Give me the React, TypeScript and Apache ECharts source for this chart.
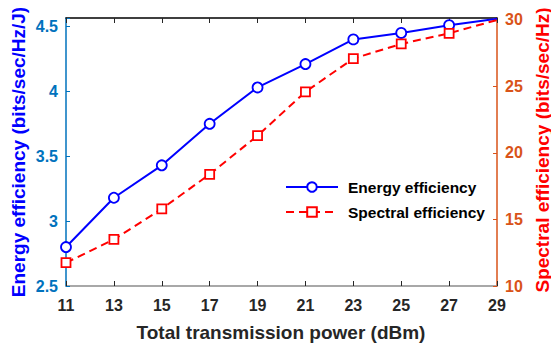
import React, { useEffect, useRef } from "react";
import * as echarts from "echarts";

const powerCategories = ["11", "13", "15", "17", "19", "21", "23", "25", "27", "29"];
const energyEfficiency = [2.8, 3.18, 3.43, 3.75, 4.03, 4.21, 4.4, 4.45, 4.51, 4.56];
const spectralEfficiency = [11.75, 13.5, 15.8, 18.4, 21.3, 24.6, 27.1, 28.2, 29.0, 30.0];
const leftTicks = [2.5, 3, 3.5, 4, 4.5];
const rightTicks = [10, 15, 20, 25, 30];

const FONT = "'Liberation Sans', Arial, Helvetica, sans-serif";

export default function App() {
  const ref = useRef<HTMLDivElement>(null);

  useEffect(() => {
    if (!ref.current) return;
    const chart = echarts.init(ref.current, undefined, { renderer: "svg" });
    const lastIdx = powerCategories.length - 1;
    const isTick = (v: number, ticks: number[]) => ticks.some((t) => Math.abs(t - v) < 1e-6);

    const option: any = {
      animation: false,
      backgroundColor: "#ffffff",
      grid: { left: 66, right: 54, top: 18, bottom: 59, containLabel: false },
      legend: {
        orient: "vertical",
        left: 280,
        top: 174,
        itemWidth: 52,
        itemHeight: 12,
        itemGap: 9,
        textStyle: {
          fontFamily: FONT,
          fontWeight: "bold",
          fontSize: 15.5,
          color: "#000000",
          lineHeight: 16,
          padding: [0, 0, 0, 5],
        },
        data: ["Energy efficiency", "Spectral efficiency"],
      },
      xAxis: [
        {
          type: "category",
          data: powerCategories,
          boundaryGap: false,
          position: "bottom",
          axisLine: { lineStyle: { color: "#8c8c8c", width: 1.5 } },
          axisTick: { inside: true, length: 5, lineStyle: { color: "#262626", width: 1 } },
          axisLabel: {
            margin: 11,
            fontFamily: FONT,
            fontWeight: "bold",
            fontSize: 16,
            color: "#262626",
          },
          splitLine: { show: false },
        },
        {
          type: "category",
          data: powerCategories,
          boundaryGap: false,
          position: "top",
          axisLine: { lineStyle: { color: "#000000", width: 1.5 } },
          axisTick: { inside: true, length: 5, lineStyle: { color: "#262626", width: 1 } },
          axisLabel: { show: false },
          splitLine: { show: false },
        },
      ],
      yAxis: [
        {
          type: "value",
          min: 2.5,
          max: 4.565,
          interval: 0.5,
          position: "left",
          axisLine: { show: true, lineStyle: { color: "#0072BD", width: 1.5 } },
          axisTick: { show: true, inside: true, length: 4, lineStyle: { color: "#0072BD" } },
          axisLabel: {
            margin: 8,
            fontFamily: FONT,
            fontWeight: "bold",
            fontSize: 16,
            color: "#0072BD",
            formatter: (v: number) => (isTick(v, leftTicks) ? String(v) : ""),
          },
          splitLine: { show: false },
        },
        {
          type: "value",
          min: 10,
          max: 30.15,
          interval: 5,
          position: "right",
          axisLine: { show: true, lineStyle: { color: "#D95319", width: 1.5 } },
          axisTick: { show: true, inside: true, length: 4, lineStyle: { color: "#D95319" } },
          axisLabel: {
            margin: 8,
            fontFamily: FONT,
            fontWeight: "bold",
            fontSize: 16,
            color: "#D95319",
            formatter: (v: number) => (isTick(v, rightTicks) ? String(v) : ""),
          },
          splitLine: { show: false },
        },
      ],
      series: [
        {
          name: "Energy efficiency",
          type: "line",
          xAxisIndex: 0,
          yAxisIndex: 0,
          clip: true,
          symbol: "circle",
          symbolSize: 10,
          data: energyEfficiency.map((v, i) => (i === lastIdx ? { value: v, symbol: "none" } : v)),
          lineStyle: { color: "#0000FF", width: 2 },
          itemStyle: { color: "#ffffff", borderColor: "#0000FF", borderWidth: 1.8 },
        },
        {
          name: "Spectral efficiency",
          type: "line",
          xAxisIndex: 0,
          yAxisIndex: 1,
          clip: true,
          symbol: "rect",
          symbolSize: 9,
          data: spectralEfficiency.map((v, i) => (i === lastIdx ? { value: v, symbol: "none" } : v)),
          lineStyle: { color: "#FF0000", width: 2, type: [8, 5] },
          itemStyle: { color: "#ffffff", borderColor: "#FF0000", borderWidth: 1.8 },
        },
      ],
      graphic: [
        {
          type: "text",
          x: 18,
          y: 152,
          rotation: Math.PI / 2,
          style: {
            text: "Energy efficiency (bits/sec/Hz/J)",
            fontFamily: FONT,
            fontWeight: "bold",
            fontSize: 19,
            fill: "#0000FF",
            textAlign: "center",
            textVerticalAlign: "middle",
          },
        },
        {
          type: "text",
          x: 542,
          y: 150,
          rotation: Math.PI / 2,
          style: {
            text: "Spectral efficiency (bits/sec/Hz)",
            fontFamily: FONT,
            fontWeight: "bold",
            fontSize: 19,
            fill: "#FF0000",
            textAlign: "center",
            textVerticalAlign: "middle",
          },
        },
        {
          type: "text",
          x: 281,
          y: 332,
          style: {
            text: "Total transmission power (dBm)",
            fontFamily: FONT,
            fontWeight: "bold",
            fontSize: 19,
            fill: "#262626",
            textAlign: "center",
            textVerticalAlign: "middle",
          },
        },
      ],
    };

    chart.setOption(option);
    return () => chart.dispose();
  }, []);

  return <div ref={ref} style={{ width: 551, height: 345, position: "absolute", left: 0, top: 0 }} />;
}
